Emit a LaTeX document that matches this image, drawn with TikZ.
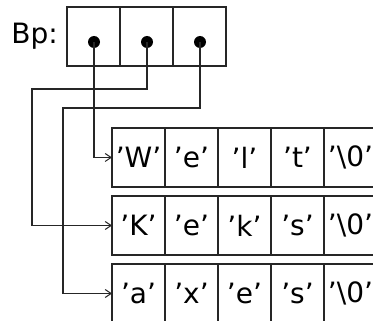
\documentclass[tikz,border=0pt]{standalone}
\usepackage{fontspec}
\setmainfont{DejaVu Sans}
\usetikzlibrary{arrows.meta}
\begin{document}
\begin{tikzpicture}[x=1pt,y=-1pt,
  cellbox/.style={draw=black!85, line width=1.4pt, minimum width=53pt, minimum height=59pt,
    inner sep=0pt, outer sep=0pt, font=\fontsize{28}{28}\selectfont, anchor=north west},
  ptr/.style={draw=black!85, line width=1.1pt, -{Straight Barb[length=6pt,width=8pt,line width=1pt]}},
  dotm/.style={circle, fill=black, minimum size=12pt, inner sep=0pt}]
\path[use as bounding box, clip] (0,0) rectangle (373,321);
% top pointer array
\node[cellbox] (p1) at (67,7) {};
\node[cellbox] (p2) at (120,7) {};
\node[cellbox] (p3) at (173,7) {};
\node[dotm] (d1) at (94,42) {};
\node[dotm] (d2) at (147,42) {};
\node[dotm] (d3) at (200,42) {};
\node[anchor=base east, font=\fontsize{28}{28}\selectfont, inner sep=0pt] (bp) at (58,44) {Bp:};
% rows
\node[cellbox] (a1) at (112,128) {’W’};
\node[cellbox] (a2) at (165,128) {’e’};
\node[cellbox] (a3) at (218,128) {’l’};
\node[cellbox] (a4) at (271,128) {’t’};
\node[cellbox] (a5) at (324,128) {’\textbackslash0’};
\node[cellbox] (b1) at (112,196) {’K’};
\node[cellbox] (b2) at (165,196) {’e’};
\node[cellbox] (b3) at (218,196) {’k’};
\node[cellbox] (b4) at (271,196) {’s’};
\node[cellbox] (b5) at (324,196) {’\textbackslash0’};
\node[cellbox] (c1) at (112,264) {’a’};
\node[cellbox] (c2) at (165,264) {’x’};
\node[cellbox] (c3) at (218,264) {’e’};
\node[cellbox] (c4) at (271,264) {’s’};
\node[cellbox] (c5) at (324,264) {’\textbackslash0’};
% connectors
\draw[ptr] (d1.center) |- (a1.west);
\draw[ptr] (d2.center) -- (147,89) -- (32,89) |- (b1.west);
\draw[ptr] (d3.center) -- (200,108) -- (63,108) |- (c1.west);
\end{tikzpicture}
\end{document}
